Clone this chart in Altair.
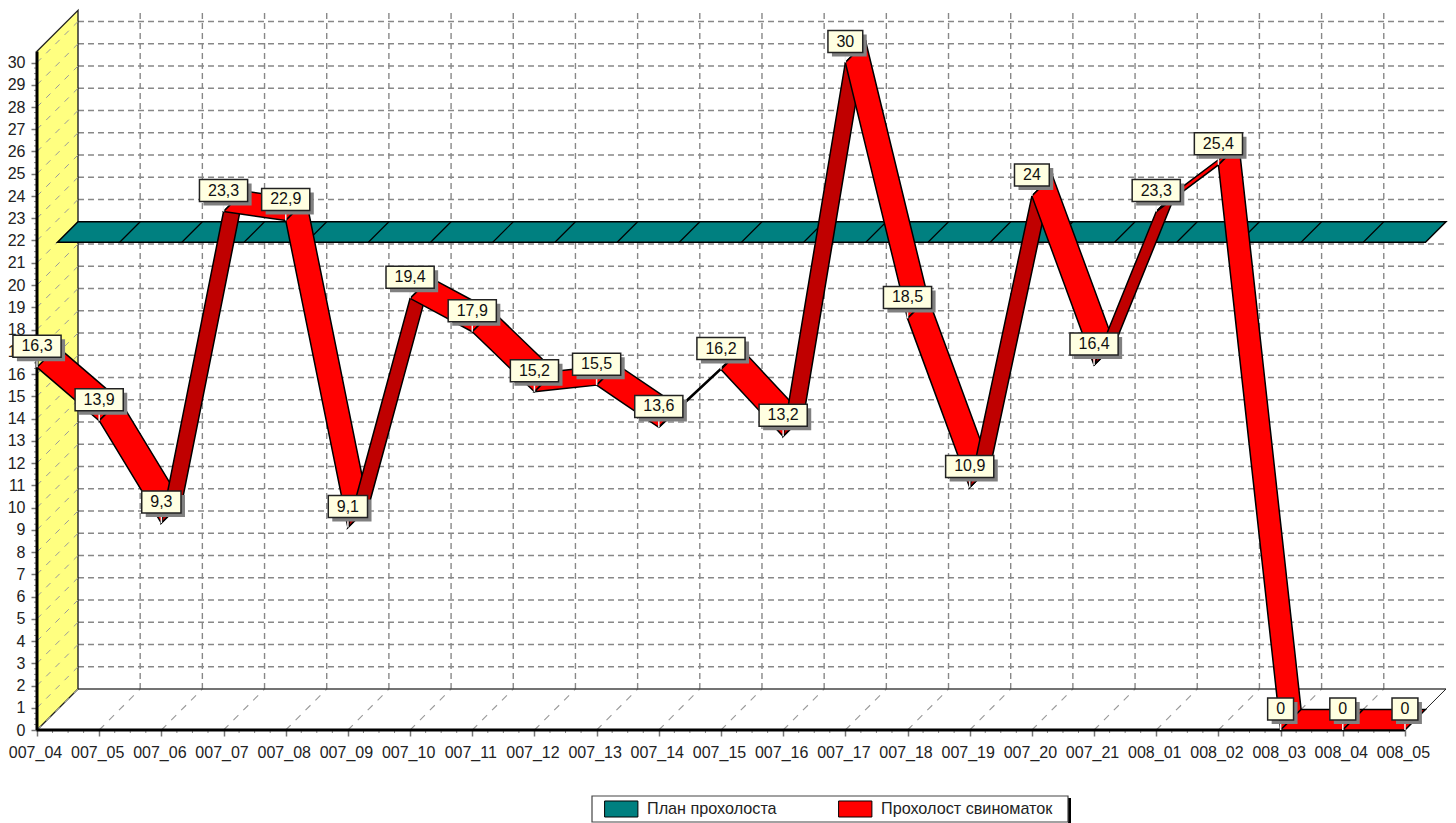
import json
import altair as alt
import pandas as pd

periods = ["007_04", "007_05", "007_06", "007_07", "007_08", "007_09", "007_10", "007_11",
           "007_12", "007_13", "007_14", "007_15", "007_16", "007_17", "007_18", "007_19",
           "007_20", "007_21", "008_01", "008_02", "008_03", "008_04", "008_05"]
litters = [16.3, 13.9, 9.3, 23.3, 22.9, 9.1, 19.4, 17.9, 15.2, 15.5, 13.6, 16.2,
           13.2, 30, 18.5, 10.9, 24, 16.4, 23.3, 25.4, 0, 0, 0]
plan_value = 21
PLAN = "План прохолоста"
FACT = "Прохолост свиноматок"
DARK = "dark"
y_ticks = list(range(0, 31))

PX_X = 62.18    # pixels per category
PX_Y = 22.25    # pixels per unit
W, H = 1409, 720
DX = 41 / PX_X  # full 3D depth, in data units
DY = 41 / PX_Y
dx, dy = DX / 2, DY / 2
X_MAX, Y_MAX = W / PX_X, H / PX_Y
WALL_TOP = 30.5
n = len(periods)


def px(p):
    return p / PX_X


def py(p):
    return p / PX_Y


def para(x0, y0, x1, y1, ox, oy, seg, series):
    """Ribbon between two points, extruded along the depth direction, as an area."""
    pts = [(x0, y0), (x1, y1), (x1 + ox, y1 + oy), (x0 + ox, y0 + oy)]
    rows = []
    for x in sorted({p[0] for p in pts}):
        hits = []
        for i in range(4):
            a, b = pts[i], pts[(i + 1) % 4]
            lo, hi = min(a[0], b[0]), max(a[0], b[0])
            if lo <= x <= hi:
                if a[0] == b[0]:
                    hits += [a[1], b[1]]
                else:
                    hits.append(a[1] + (b[1] - a[1]) * (x - a[0]) / (b[0] - a[0]))
        rows.append({"x": x, "y": min(hits), "y2": max(hits), "seg": seg, "series": series})
    return rows


red_rows = []
for i in range(n - 1):
    rise = (litters[i + 1] - litters[i]) * PX_Y
    series = DARK if rise > PX_X else FACT
    red_rows += para(i, litters[i], i + 1, litters[i + 1], dx, dy, i, series)
red_df = pd.DataFrame(red_rows)

teal_df = pd.DataFrame(para(dx, plan_value + dy, n - 1 + dx, plan_value + dy, dx, dy, 0, PLAN))
teal_diag = pd.DataFrame([{"x": i + dx, "x2": i + DX, "y": plan_value + dy, "y2": plan_value + DY}
                          for i in range(1, n - 1)])

wall_df = pd.DataFrame([{"x": 0, "y": 0, "y2": WALL_TOP}, {"x": DX, "y": DY, "y2": WALL_TOP + DY}])
wall_grid = pd.DataFrame([{"x": 0, "x2": DX, "y": v, "y2": v + DY} for v in y_ticks])
back_h = pd.DataFrame([{"x": DX, "x2": n - 1 + DX, "y": v + DY, "y2": v + DY} for v in y_ticks[1:]])
back_v = pd.DataFrame([{"x": i + DX, "x2": i + DX, "y": DY, "y2": WALL_TOP + DY} for i in range(1, n - 1)])
floor_d = pd.DataFrame([{"x": i, "x2": i + DX, "y": 0, "y2": DY} for i in range(1, n - 1)])
floor_back = pd.DataFrame([{"x": DX, "x2": n - 1 + DX, "y": DY, "y2": DY}])
floor_right = pd.DataFrame([{"x": n - 1, "x2": n - 1 + DX, "y": 0, "y2": DY}])
axis_left = pd.DataFrame([{"x": 0, "x2": 0, "y": 0, "y2": WALL_TOP}])
axis_bottom = pd.DataFrame([{"x": 0, "x2": n - 1, "y": 0, "y2": 0}])
minor_y = pd.DataFrame([{"y": v + k / 4} for v in y_ticks[:-1] for k in (1, 2, 3)])
minor_x = pd.DataFrame([{"x": i + k / 4} for i in range(n - 1) for k in (1, 2, 3)])


def text_of(v):
    return str(v).replace(".", ",")


labels = []
for i, v in enumerate(litters):
    t = text_of(v)
    bw = 17 + sum(4.45 if c == "," else 8.9 for c in t)
    cx, cy = i, v + py(21)
    labels.append({
        "x": cx - px(bw / 2), "x2": cx + px(bw / 2), "y": cy - py(11), "y2": cy + py(11),
        "sx": cx - px(bw / 2 - 4), "sx2": cx + px(bw / 2 + 4), "sy": cy - py(15), "sy2": cy + py(7),
        "cx": cx, "cy": cy, "t": t, "v": v,
    })
lab_df = pd.DataFrame(labels)

xscale = alt.Scale(domain=[0, X_MAX], nice=False, zero=False)
yscale = alt.Scale(domain=[0, Y_MAX], nice=False, zero=False)
font = "Liberation Sans"
x_axis = alt.Axis(values=list(range(n)), labelExpr=f"{json.dumps(periods)}[datum.value]", title=None, grid=False,
                  domain=False, tickColor="#777777", tickSize=6, tickWidth=1.5, labelFont=font, labelFontSize=16,
                  labelColor="#222222", labelPadding=8, labelOffset=-2, labelOverlap=False, labelFlush=False,
                  labelAngle=0)
y_axis = alt.Axis(values=y_ticks, title=None, grid=False, domain=False, tickColor="#777777", tickSize=6,
                  tickWidth=1.5, labelFont=font, labelFontSize=16, labelColor="#222222", labelPadding=6,
                  labelOverlap=False, labelFlush=False)
X = alt.X("x:Q", scale=xscale, axis=x_axis)
Y = alt.Y("y:Q", scale=yscale, axis=y_axis)
color = alt.Color(
    "series:N",
    scale=alt.Scale(domain=[PLAN, FACT, DARK], range=["#008080", "#FF0000", "#C00000"]),
    legend=alt.Legend(values=[PLAN, FACT], title=None, orient="none", legendX=555, legendY=786, columns=2,
                      direction="horizontal", padding=4,
                      symbolType="M-0.1,-0.89H3.6V0.89H-0.1Z", symbolSize=324, symbolStrokeColor="black",
                      symbolStrokeWidth=1, clipHeight=18, labelFont=font, labelFontSize=16.2, labelColor="#222222",
                      labelOffset=32, labelLimit=300, columnPadding=53, symbolOpacity=1),
)


def rule(df, color_, width=1.0, dash=None):
    kw = {"strokeDash": dash} if dash else {}
    return alt.Chart(df).mark_rule(color=color_, strokeWidth=width, **kw).encode(x=X, y=Y, x2="x2:Q", y2="y2:Q")


GRID = "#888888"
one = pd.DataFrame({"k": [0]})
layers = [
    rule(back_h, GRID, 1.4, [6, 4]),
    rule(back_v, GRID, 1.4, [6, 4]),
    rule(floor_d, "#999999", 1.1, [7, 7]),
    rule(floor_back, "#444444", 1.6),
    rule(floor_right, "#222222", 1.0),
    alt.Chart(wall_df).mark_area(color="#FFFF80", stroke="#222222", strokeWidth=1.4, orient="vertical").encode(
        x=X, y=Y, y2="y2:Q"),
    rule(wall_grid, "#999999", 1.0, [6, 7]),
    alt.Chart(minor_y).mark_rule(color="#888888", strokeWidth=1).encode(y=Y, x=alt.value(-3), x2=alt.value(0)),
    alt.Chart(minor_x).mark_rule(color="#888888", strokeWidth=1).encode(x=X, y=alt.value(H), y2=alt.value(H + 3)),
    rule(axis_left, "black", 3),
    rule(axis_bottom, "black", 3),
    alt.Chart(teal_df).mark_area(stroke="black", strokeWidth=1.5, opacity=1, orient="vertical").encode(
        x=X, y=Y, y2="y2:Q", color=color, detail="seg:N"),
    rule(teal_diag, "black", 1.2),
    alt.Chart(red_df).mark_area(stroke="black", strokeWidth=1.5, opacity=1, orient="vertical").encode(
        x=X, y=Y, y2="y2:Q", color=color, detail="seg:N"),
    alt.Chart(lab_df).mark_rule(color="#eeeeee", strokeWidth=1.5).encode(
        x=alt.X("cx:Q", scale=xscale, axis=x_axis), y=alt.Y("v:Q", scale=yscale, axis=y_axis), y2="y:Q"),
    alt.Chart(lab_df).mark_rect(color="#808080").encode(
        x=alt.X("sx:Q", scale=xscale, axis=x_axis), x2="sx2:Q",
        y=alt.Y("sy:Q", scale=yscale, axis=y_axis), y2="sy2:Q"),
    alt.Chart(lab_df).mark_rect(fill="#FFFFE1", stroke="#222222", strokeWidth=1.5).encode(
        x=X, x2="x2:Q", y=Y, y2="y2:Q"),
    alt.Chart(lab_df).mark_text(font=font, fontSize=16, color="#111111", baseline="middle", align="center").encode(
        x=alt.X("cx:Q", scale=xscale, axis=x_axis), y=alt.Y("cy:Q", scale=yscale, axis=y_axis), text="t:N"),
    alt.Chart(one).mark_rect(color="black").encode(
        x=alt.value(1031), x2=alt.value(1034), y=alt.value(788), y2=alt.value(813)),
    alt.Chart(one).mark_rect(fill="white", stroke="#444444", strokeWidth=1.2).encode(
        x=alt.value(555), x2=alt.value(1031), y=alt.value(786), y2=alt.value(812)),
]

chart = alt.layer(*layers).properties(
    width=W, height=H,
    padding={"left": 29, "top": 2, "right": 2, "bottom": 93},
    autosize=alt.AutoSizeParams(type="none"),
    background="white",
).configure_view(stroke=None)

chart.save("out.html", embed_options={"renderer": "svg", "actions": False})
